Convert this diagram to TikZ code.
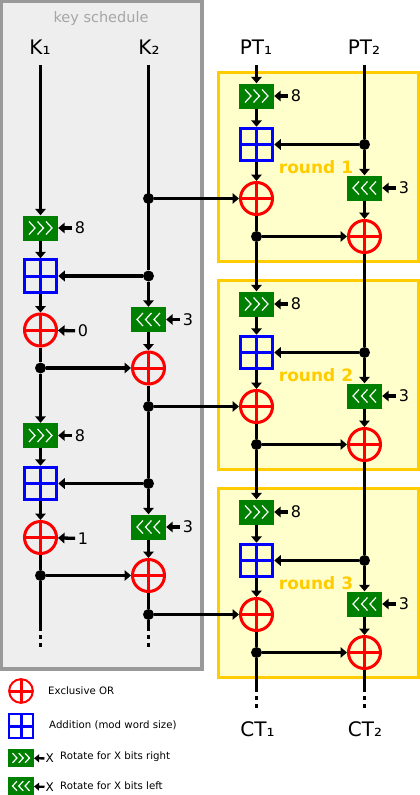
\documentclass[tikz,border=0pt]{standalone}
\usepackage{fontspec}
\setmainfont{DejaVu Sans}
\usepackage{xcolor}
\usepackage{tikz}
\usetikzlibrary{arrows.meta, positioning, calc, shapes}

\definecolor{keygray}{HTML}{999999}
\definecolor{keyfill}{HTML}{EEEEEE}
\definecolor{roundline}{HTML}{FFCC00}
\definecolor{roundfill}{HTML}{FFFFCC}
\definecolor{rotgreen}{HTML}{008000}

\tikzset{
	wire/.style={line width=3.3pt},
	sig/.style={line width=3.3pt, -{Triangle[length=6.5pt, width=10.5pt]}},
	tail/.style={line width=3.3pt, dash pattern=on 3.5pt off 4.5pt},
	joint/.style={circle, fill=black, minimum size=11pt, inner sep=0pt},
	roundbox/.style={draw=roundline, fill=roundfill, line width=3pt, minimum width=200pt, minimum height=189pt, inner sep=0pt},
	xorgate/.style={circle, draw=red, line width=3pt, minimum size=32pt, inner sep=0pt,
		path picture={\draw[red, line width=3pt] (path picture bounding box.north) -- (path picture bounding box.south)
			(path picture bounding box.west) -- (path picture bounding box.east);}},
	addbox/.style={rectangle, draw=blue, line width=3pt, minimum size=32.5pt, inner sep=0pt,
		path picture={\draw[blue, line width=3pt] (path picture bounding box.north) -- (path picture bounding box.south)
			(path picture bounding box.west) -- (path picture bounding box.east);}},
	rotbox/.style={rectangle, fill=rotgreen, minimum width=35pt, minimum height=25pt, inner sep=0pt},
	rotright/.style={rotbox, path picture={\foreach \d in {-8.5,0,8.5}
		\draw[white, line width=1.2pt] ($(path picture bounding box.center)+(\d-3,-6.5)$) -- ++(6,6.5) -- ++(-6,6.5);}},
	rotleft/.style={rotbox, path picture={\foreach \d in {-8.5,0,8.5}
		\draw[white, line width=1.2pt] ($(path picture bounding box.center)+(\d+3,-6.5)$) -- ++(-6,6.5) -- ++(6,6.5);}},
	bigtext/.style={font=\fontsize{20}{22}\selectfont, inner sep=0pt},
	amount/.style={font=\fontsize{16}{18}\selectfont, inner sep=2.5pt},
	roundname/.style={font=\fontsize{17}{19}\selectfont\bfseries, text=roundline, inner sep=0pt},
	legendtext/.style={font=\fontsize{10.2}{12}\selectfont, inner sep=0pt, anchor=west},
	legendsign/.style={scale=0.74, transform shape},
	legendtip/.style={line width=2.3pt, -{Triangle[length=5pt, width=8pt]}},
}

\begin{document}
\begin{tikzpicture}[x=1pt, y=-1pt]
	\useasboundingbox (0,0) rectangle (420,795);

	% Backgrounds
	\node[draw=keygray, fill=keyfill, line width=4pt, minimum width=200.5pt, minimum height=668pt, inner sep=0pt] (keypanel) at (101.25,335) {};
	\node[font=\fontsize{14.5}{16}\selectfont, text=black!35] (keytitle) at (101,18) {key schedule};
	\foreach \r in {1,2,3} {
		\pgfmathsetmacro{\off}{208*(\r-1)}
		\node[roundbox] (round\r) at (318,166.5+\off) {};
		\node[roundname] (roundname\r) at (316,167+\off) {round \r};
	}

	% Inputs and outputs
	\node[bigtext] (K1) at (40,47) {K₁};
	\node[bigtext] (K2) at (149,47) {K₂};
	\node[bigtext] (PT1) at (256,47) {PT₁};
	\node[bigtext] (PT2) at (364,47) {PT₂};
	\node[bigtext] (CT1) at (257.5,729) {CT₁};
	\node[bigtext] (CT2) at (365,729) {CT₂};
	\coordinate (K1top) at (40.5,65);
	\coordinate (K2top) at (148.5,65);
	\coordinate (PT1top) at (256.5,65);
	\coordinate (PT2top) at (364.5,65);

	% Key schedule
	\foreach \k/\c in {1/0,2/1} {
		\pgfmathsetmacro{\off}{207.5*(\k-1)}
		\node[rotright] (krot\k) at (40.5,228+\off) {};
		\node[amount] (krotn\k) at (80,228+\off) {8};
		\node[addbox] (kadd\k) at (40.5,276+\off) {};
		\node[xorgate] (kxor\k) at (40.5,330+\off) {};
		\node[amount] (kc\k) at (83,331+\off) {\c};
		\node[joint] (kjl\k) at (40.5,368+\off) {};
		\node[joint] (kjr\k) at (148.5,276+\off) {};
		\node[rotleft] (krotb\k) at (148.5,319.5+\off) {};
		\node[amount] (krotbn\k) at (188,319.5+\off) {3};
		\node[xorgate] (kxorb\k) at (148.5,368+\off) {};
		\draw[sig] (krot\k) -- (kadd\k);
		\draw[sig] (kadd\k) -- (kxor\k);
		\draw[wire] (kxor\k) -- (kjl\k);
		\draw[sig] (kjl\k) -- (kxorb\k);
		\draw[sig] (kjr\k) -- (kadd\k);
		\draw[sig] (kjr\k) -- (krotb\k);
		\draw[sig] (krotb\k) -- (kxorb\k);
		\draw[sig] (krotn\k) -- (krot\k);
		\draw[sig] (krotbn\k) -- (krotb\k);
		\draw[sig, shorten <=0pt] (kc\k) -- (kxor\k);
	}
	\draw[sig] (K1top) -- (krot1);
	\draw[sig] (kjl1) -- (krot2);
	\draw[wire] (K2top) -- (kjr1);
	\coordinate (K1end) at (40.5,627);
	\coordinate (K1dot) at (40.5,651);
	\coordinate (K2end) at (148.5,627);
	\coordinate (K2dot) at (148.5,651);
	\draw[wire] (kjl2) -- (K1end);
	\draw[tail] (K1end) -- (K1dot);

	% Rounds
	\foreach \r in {1,2,3} {
		\pgfmathsetmacro{\off}{208*(\r-1)}
		\node[rotright] (rot\r) at (256.5,96+\off) {};
		\node[amount] (rotn\r) at (296,96+\off) {8};
		\node[addbox] (add\r) at (256.5,144.5+\off) {};
		\node[xorgate] (xor\r) at (256.5,198.5+\off) {};
		\node[joint] (jl\r) at (256.5,236.5+\off) {};
		\node[joint] (jr\r) at (364.5,144.5+\off) {};
		\node[rotleft] (rotb\r) at (364.5,188+\off) {};
		\node[amount] (rotbn\r) at (404,188+\off) {3};
		\node[xorgate] (xorb\r) at (364.5,236.5+\off) {};
		\node[joint] (kj\r) at (148.5,198.5+\off) {};
		\draw[sig] (rot\r) -- (add\r);
		\draw[sig] (add\r) -- (xor\r);
		\draw[wire] (xor\r) -- (jl\r);
		\draw[sig] (jl\r) -- (xorb\r);
		\draw[sig] (jr\r) -- (add\r);
		\draw[sig] (jr\r) -- (rotb\r);
		\draw[sig] (rotb\r) -- (xorb\r);
		\draw[sig] (rotn\r) -- (rot\r);
		\draw[sig] (rotbn\r) -- (rotb\r);
		\draw[sig] (kj\r) -- (xor\r);
	}
	\foreach \r/\n in {1/2,2/3} {
		\draw[sig] (jl\r) -- (rot\n);
		\draw[wire] (xorb\r) -- (jr\n);
	}
	\draw[sig] (PT1top) -- (rot1);
	\draw[wire] (PT2top) -- (jr1);
	\coordinate (PT1end) at (256.5,688);
	\coordinate (PT1dot) at (256.5,711);
	\coordinate (PT2end) at (364.5,688);
	\coordinate (PT2dot) at (364.5,711);
	\draw[wire] (jl3) -- (PT1end);
	\draw[tail] (PT1end) -- (PT1dot);
	\draw[wire] (xorb3) -- (PT2end);
	\draw[tail] (PT2end) -- (PT2dot);

	% Key wire between the tap points
	\draw[wire] (kjr1) -- (kj1);
	\draw[wire] (kxorb1) -- (kj2);
	\draw[wire] (kj2) -- (kjr2);
	\draw[wire] (kxorb2) -- (kj3);
	\draw[wire] (kj3) -- (K2end);
	\draw[tail] (K2end) -- (K2dot);

	% Legend
	\node[xorgate, legendsign, line width=2pt] (legxor) at (21,691) {};
	\node[legendtext] (legxortext) at (48,691) {Exclusive OR};
	\node[addbox, legendsign, line width=2pt] (legadd) at (21,726) {};
	\node[legendtext] (legaddtext) at (49,725) {Addition (mod word size)};
	\node[rotright, legendsign] (legrotr) at (21,758) {};
	\node[legendtext, font=\fontsize{12}{14}\selectfont, inner sep=1pt] (legxr) at (44.5,758.5) {X};
	\node[legendtext] (legrotrtext) at (60,757) {Rotate for X bits right};
	\node[rotleft, legendsign] (legrotl) at (21,786) {};
	\node[legendtext, font=\fontsize{12}{14}\selectfont, inner sep=1pt] (legxl) at (44.5,787) {X};
	\node[legendtext] (legrotltext) at (60,786) {Rotate for X bits left};
	\draw[legendtip] (legxr) -- (legrotr);
	\draw[legendtip] (legxl) -- (legrotl);
\end{tikzpicture}
\end{document}
